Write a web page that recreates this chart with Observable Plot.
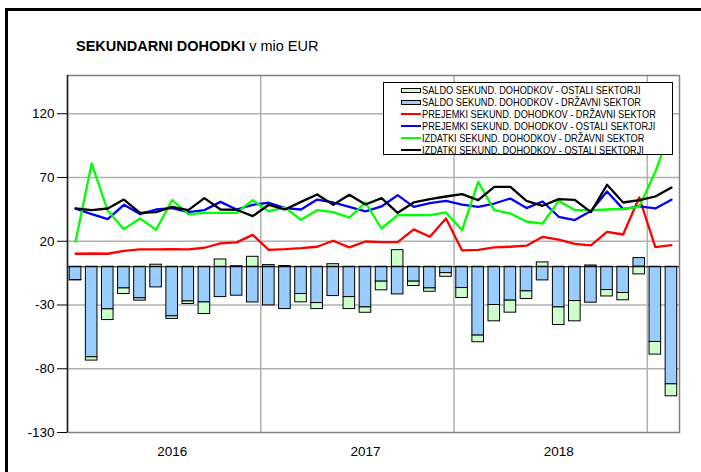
<!DOCTYPE html>
<html><head><meta charset="utf-8">
<script src="https://cdn.jsdelivr.net/npm/d3@7"></script>
<script src="https://cdn.jsdelivr.net/npm/@observablehq/plot@0.6"></script>
<style>
body{margin:0;background:#fff;font-family:"Liberation Sans",Arial,sans-serif;}
#wrap{position:relative;width:701px;height:472px;overflow:hidden;}
#border{position:absolute;left:5px;top:8px;width:800px;height:800px;border-left:3px solid #000;border-top:3px solid #000;}
#title{position:absolute;left:76px;top:38px;font-size:14.5px;line-height:17px;color:#000;white-space:nowrap;}
#chart{position:absolute;left:0;top:60px;}
#legend{position:absolute;left:383px;top:82px;width:290px;height:73px;border:1px solid #000;background:#fff;box-sizing:border-box;}
.row{position:absolute;left:0;height:12px;width:300px;}
.sw{position:absolute;left:17px;width:20px;}
.lab{position:absolute;left:38px;top:0;font-size:11.5px;line-height:12px;white-space:nowrap;transform:scaleX(0.8);transform-origin:0 50%;color:#000;}
</style></head>
<body>
<div id="wrap">
  <div id="border"></div>
  <div id="title"><b>SEKUNDARNI DOHODKI</b> v mio EUR</div>
  <div id="chart"></div>
  <div id="legend"></div>
</div>
<script>
const years = ["2016", "2017", "2018"];
const legendLabels = [
  "SALDO SEKUND. DOHODKOV - OSTALI SEKTORJI",
  "SALDO SEKUND. DOHODKOV - DRŽAVNI SEKTOR",
  "PREJEMKI SEKUND. DOHODKOV - DRŽAVNI SEKTOR",
  "PREJEMKI SEKUND. DOHODKOV - OSTALI SEKTORJI",
  "IZDATKI SEKUND. DOHODKOV - DRŽAVNI SEKTOR",
  "IZDATKI SEKUND. DOHODKOV - OSTALI SEKTORJI"
];
const yTicks = [-130, -80, -30, 20, 70, 120];

// monthly values Jan 2016 - Feb 2019, mio EUR
const saldoDrzavni = [-10.4, -71, -33.4, -17, -24.8, -16.2, -38.9, -27.2, -28, -23.8, -22.7, -28,
  -30.3, -33.2, -21.4, -28.5, -23, -23.8, -31.9, -11.7, -21.7, -11.7, -17, -5,
  -16.7, -54, -30, -26.6, -19.3, -10.7, -31.9, -26.9, -28.2, -18.3, -20.6, 6.8,
  -59, -92.2];
const saldoOstali = [-0.3, -2.6, -8.4, -4.4, -1.8, 1.6, -2, -2, -9.1, 5.7, 0.4, 7.8,
  1.3, 0.6, -6.5, -4.7, 2, -9.4, -4.2, -6.8, 13, -3.4, -2.6, -2.9,
  -7.8, -5.2, -12.8, -9.4, -6, 3.4, -13.8, -15.9, 1, -5, -5.7, -6,
  -9.9, -9.4];
const prejemkiDrzavni = [10.2, 10.4, 10.2, 12.5, 13.6, 13.6, 13.8, 13.6, 14.9, 18.3, 19.1, 25,
  13.3, 13.8, 14.6, 15.7, 20.4, 15.2, 19.8, 19.3, 19.3, 29.3, 23.5, 37.9,
  12.8, 13.3, 15.2, 15.7, 16.5, 23.5, 21.2, 18, 16.7, 27.4, 25.3, 54.3,
  15.4, 17];
const prejemkiOstali = [45.5, 41.3, 37.4, 48.6, 41.3, 44.9, 46, 42.9, 44.4, 50.9, 44.9, 48.6,
  50.2, 46, 44.9, 52.7, 50.4, 47, 43.4, 47.3, 56.2, 47, 49.9, 51.7,
  48.8, 47, 49.6, 53.5, 46, 51.2, 39.2, 36.6, 43.7, 59, 45.2, 47.3,
  45.7, 52.5];
const izdatkiDrzavni = [19.8, 81, 43.9, 29.5, 37.9, 28.9, 52.3, 41.3, 42.3, 42.3, 42.3, 52.3,
  43.4, 46.5, 36.8, 44.4, 42.8, 38.6, 50.4, 30, 40.5, 40.5, 40.5, 42.6,
  28.7, 66.6, 44.4, 41.8, 35.5, 33.9, 51.7, 44.4, 44.4, 44.9, 45.5, 47,
  74.5, 109];
const izdatkiOstali = [45.7, 44.4, 45.7, 52.7, 42.3, 42.9, 47, 44.4, 53.8, 44.9, 44.7, 39.7,
  48.6, 44.9, 50.9, 56.7, 48.6, 56.4, 48.8, 53.8, 42.3, 50.4, 53, 55.1,
  57, 52.3, 62.7, 62.7, 51.7, 47.8, 53, 52.5, 42.9, 64.3, 50.4, 52.3,
  55.1, 62.1];

// styles
const colors = ["#ccffcc", "#99ccff", "#ff0000", "#0000ff", "#00ff00", "#000000"];

const n = prejemkiDrzavni.length;
const idx = d3.range(n);
const bars = idx.flatMap(i => [
  {i, series: legendLabels[1], value: saldoDrzavni[i]},
  {i, series: legendLabels[0], value: saldoOstali[i]}
]);
const lineArrays = [prejemkiDrzavni, prejemkiOstali, izdatkiDrzavni, izdatkiOstali];
const lines = lineArrays.flatMap((arr, k) => arr.map((v, i) => ({i, series: legendLabels[k + 2], value: v})));
const yearBounds = years.map((y, k) => 12 * (k + 1));
const yearLabelPos = years.map((y, k) => 12 * k + 6.5);

const chart = Plot.plot({
  width: 701,
  height: 412,
  marginLeft: 67,
  marginRight: 22,
  marginTop: 15,
  marginBottom: 40,
  x: {type: "linear", domain: [0, n]},
  y: {domain: [-130, 150]},
  color: {domain: legendLabels, range: colors},
  style: {fontFamily: "'Liberation Sans', Arial, sans-serif", fontSize: "13.5px", color: "#000", background: "transparent", overflow: "visible"},
  marks: [
    Plot.ruleY(yTicks.filter(t => t > -130), {y: d => d, stroke: "#b0b0b0", strokeWidth: 1.5}),
    Plot.ruleX(yearBounds, {x: d => d, stroke: "#b0b0b0", strokeWidth: 1.5}),
    Plot.frame({stroke: "#808080", strokeWidth: 1.5}),
    Plot.rect(bars, Plot.stackY({x: "i", x1: d => d.i + 0.14, x2: d => d.i + 0.86, y: "value", fill: "series", stroke: "#000", strokeWidth: 1})),
    Plot.ruleY([0], {stroke: "#000", strokeWidth: 1.2}),
    Plot.line(lines, {x: d => d.i + 0.5, y: "value", z: "series", stroke: "series", strokeWidth: 2.3}),
    Plot.ruleX([0], {stroke: "#222", strokeWidth: 1.5}),
    Plot.axisY({ticks: yTicks, tickSize: 10, tickPadding: 3, tickFormat: d => String(d), label: null}),
    Plot.axisX({ticks: yearLabelPos, tickSize: 0, tickPadding: 14, tickFormat: (d, k) => years[k], label: null})
  ]
});
document.getElementById("chart").appendChild(chart);

// legend
const leg = document.getElementById("legend");
legendLabels.forEach((lab, k) => {
  const row = document.createElement("div");
  row.className = "row";
  row.style.top = (1 + 12 * k) + "px";
  const sw = document.createElement("div");
  sw.className = "sw";
  if (k < 2) {
    sw.style.top = "3.5px"; sw.style.height = "5px"; sw.style.boxSizing = "border-box";
    sw.style.background = colors[k]; sw.style.border = "1px solid #000";
  } else {
    sw.style.top = "5px"; sw.style.height = "2px"; sw.style.background = colors[k];
  }
  const t = document.createElement("span");
  t.className = "lab";
  t.textContent = lab;
  row.appendChild(sw); row.appendChild(t);
  leg.appendChild(row);
});
</script>
</body></html>
